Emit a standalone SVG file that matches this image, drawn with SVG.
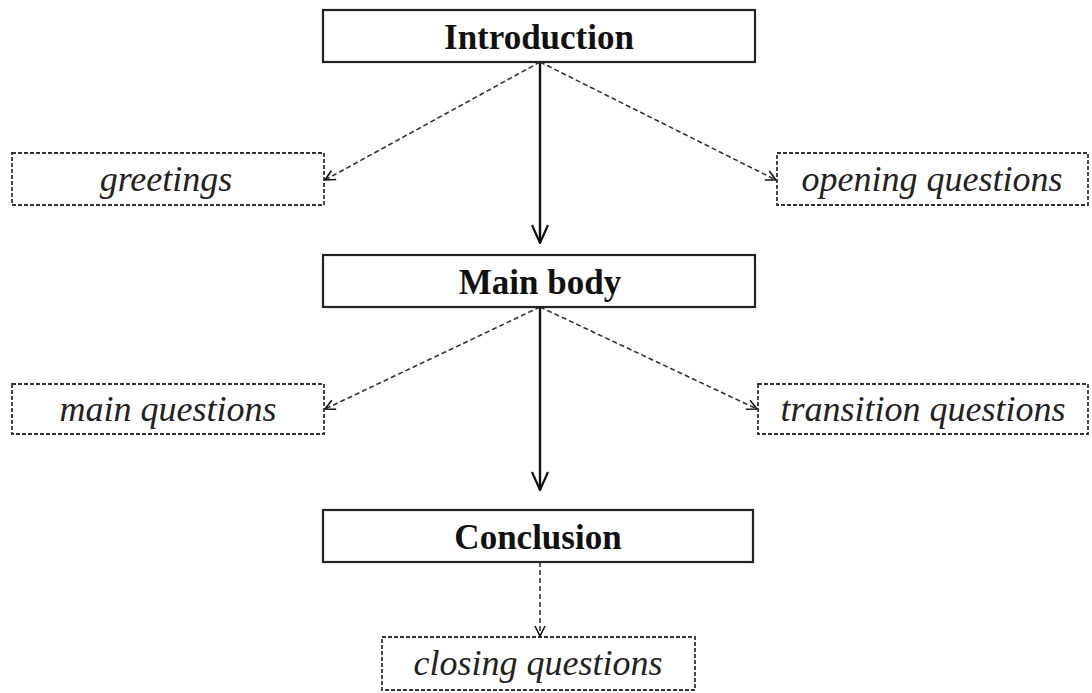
<svg xmlns="http://www.w3.org/2000/svg" width="1092" height="693" viewBox="0 0 1092 693">
<defs>
<marker id="ah" viewBox="0 0 12 12" refX="11" refY="6" markerWidth="12" markerHeight="12" markerUnits="userSpaceOnUse" orient="auto">
<path d="M1,1 L11,6 L1,11" fill="none" stroke="#111" stroke-width="1.6"/>
</marker>
<marker id="ahs" viewBox="0 0 20 20" refX="19" refY="10" markerWidth="20" markerHeight="20" markerUnits="userSpaceOnUse" orient="auto">
<path d="M1,2 L19,10 L1,18" fill="none" stroke="#111" stroke-width="2.2"/>
</marker>
</defs>
<style>
.main rect{fill:#fff;stroke:#222;stroke-width:2.2}
.sub rect{fill:#fff;stroke:#333;stroke-width:1.8;stroke-dasharray:4 2}
.main text{font-family:'Liberation Serif','Times New Roman',Times,serif;font-weight:bold;font-size:35px;fill:#111;text-anchor:middle}
.sub text{font-family:'Liberation Serif','Times New Roman',Times,serif;font-style:italic;font-size:36px;fill:#222;text-anchor:middle}
.solid{stroke:#111;stroke-width:2.4;fill:none;marker-end:url(#ahs)}
.dash{stroke:#333;stroke-width:1.6;fill:none;stroke-dasharray:5 3;marker-end:url(#ah)}
</style>
<rect width="1092" height="693" fill="#fff"/>
<g id="connectors">
<line class="solid" x1="540" y1="62" x2="540" y2="243"/>
<line class="solid" x1="540" y1="307" x2="540" y2="490"/>
<line class="dash" x1="540" y1="62" x2="325" y2="180"/>
<line class="dash" x1="540" y1="62" x2="776" y2="180"/>
<line class="dash" x1="540" y1="307" x2="325" y2="409"/>
<line class="dash" x1="540" y1="307" x2="757" y2="409"/>
<line class="dash" x1="540" y1="562" x2="540" y2="636"/>
</g>
<g id="introduction" class="main"><rect x="323" y="10" width="432" height="52"/><text x="539" y="49">Introduction</text></g>
<g id="main-body" class="main"><rect x="323" y="255" width="432" height="52"/><text x="540" y="294">Main body</text></g>
<g id="conclusion" class="main"><rect x="323" y="510" width="430" height="52"/><text x="538" y="549">Conclusion</text></g>
<g id="greetings" class="sub"><rect x="12" y="153" width="312" height="52"/><text x="166" y="191">greetings</text></g>
<g id="opening-questions" class="sub"><rect x="777" y="153" width="311" height="52"/><text x="932" y="191">opening questions</text></g>
<g id="main-questions" class="sub"><rect x="12" y="384" width="312" height="50"/><text x="168" y="421">main questions</text></g>
<g id="transition-questions" class="sub"><rect x="758" y="384" width="330" height="50"/><text x="923" y="421">transition questions</text></g>
<g id="closing-questions" class="sub"><rect x="382" y="637" width="313" height="53"/><text x="538" y="675">closing questions</text></g>
</svg>
